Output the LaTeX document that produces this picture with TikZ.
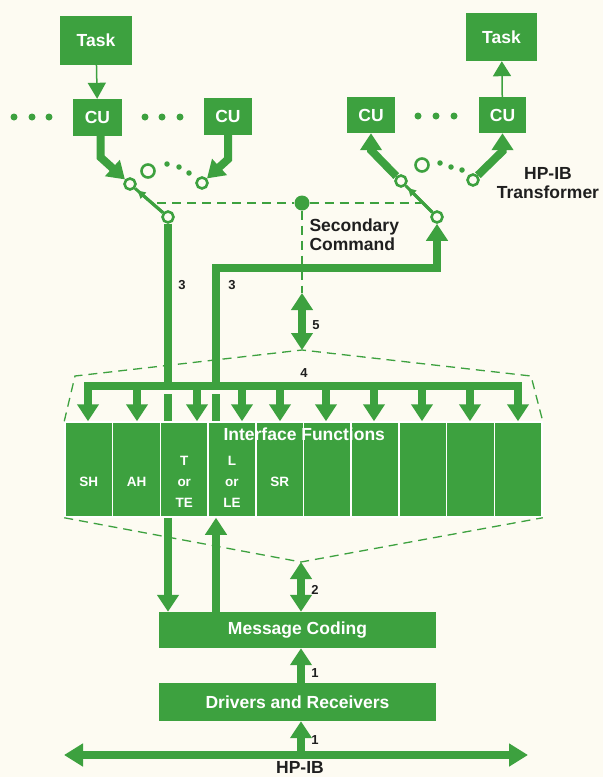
\documentclass[tikz,border=0pt]{standalone}
\usepackage{fontspec}
\setmainfont{Liberation Sans}
\usetikzlibrary{arrows.meta,calc}
\definecolor{hpgreen}{RGB}{61,161,63}
\definecolor{paper}{RGB}{253,251,242}
\tikzset{
  box/.style={fill=hpgreen,text=white,font=\bfseries\fontsize{17.5}{21}\selectfont,inner sep=0pt},
  col/.style={fill=hpgreen,draw=white,line width=1.5pt,minimum width=47.7pt,minimum height=95pt,inner sep=0pt},
  coltxt/.style={text=white,font=\bfseries\fontsize{13.5}{21}\selectfont,align=center},
  lbl/.style={text=black!88,font=\bfseries\fontsize{13}{15}\selectfont},
  big/.style={text=black!88,font=\bfseries\fontsize{17.5}{19.5}\selectfont},
  contact/.style={circle,draw=hpgreen,fill=paper,line width=2.6pt,minimum size=11pt,inner sep=0pt},
  dot/.style={circle,fill=hpgreen,minimum size=7pt,inner sep=0pt},
  sdot/.style={circle,fill=hpgreen,minimum size=5.5pt,inner sep=0pt},
  wire/.style={hpgreen,line width=8pt},
  arm/.style={hpgreen,line width=3pt},
  dashline/.style={hpgreen,line width=1.3pt,dash pattern=on 9pt off 6pt},
}
\begin{document}
\begin{tikzpicture}[x=1pt,y=-1pt,line join=miter,>={Triangle[width=21pt,length=17pt]}]
  \fill[paper] (0,0) rectangle (603,777);
  \useasboundingbox (0,0) rectangle (603,777);
  % tasks and control units
  \node[box,minimum width=72pt,minimum height=49pt] (taskL) at (96,40) {Task};
  \node[box,minimum width=71pt,minimum height=48pt] (taskR) at (501.5,37) {Task};
  \node[box,minimum width=49pt,minimum height=37pt] (cuL1) at (97.5,117.5) {CU};
  \node[box,minimum width=48pt,minimum height=37pt] (cuL2) at (228,116.5) {CU};
  \node[box,minimum width=48pt,minimum height=36pt] (cuR1) at (371,115) {CU};
  \node[box,minimum width=47pt,minimum height=36pt] (cuR2) at (502.5,115) {CU};
  \foreach \x [count=\i] in {14,32,49,145,162,180,418,436,454}
    \node[dot] (d\i) at (\x,{\x<400 ? 117 : 116}) {};
  \draw[hpgreen,line width=1.5pt,-{Triangle[width=18pt,length=16pt]}] (taskL) -- (cuL1);
  \draw[hpgreen,line width=1.5pt,-{Triangle[width=18pt,length=15pt]}] (cuR2) -- (taskR);
  % switches
  \node[contact] (cL1) at (130,184) {};
  \node[contact] (cL2) at (202,183) {};
  \node[contact,minimum size=13pt] (cL3) at (148,171) {};
  \node[contact] (pL) at (168,217) {};
  \node[contact] (cR1) at (401,181) {};
  \node[contact] (cR2) at (473,180) {};
  \node[contact,minimum size=13pt] (cR3) at (422,165) {};
  \node[contact] (pR) at (437,217) {};
  \foreach \x/\y [count=\i] in {167/164,179/167,189/173,440/163,451/167,462/170}
    \node[sdot] (s\i) at (\x,\y) {};
  \draw[arm] (pL) -- (cL1);
  \draw[arm,-{Triangle[width=8pt,length=8pt]},shorten >=3pt] (pL) -- (cL1);
  \draw[arm] (pR) -- (cR1);
  \draw[arm,-{Triangle[width=8pt,length=8pt]},shorten >=3pt] (pR) -- (cR1);
  \draw[wire,->] ([xshift=3pt]cuL1.south) -- ++(0,21) -- (cL1);
  \draw[wire,->] (cuL2.south) -- ++(0,24) -- (cL2);
  \draw[wire,->] (cR1) -- ($(cuR1.south)+(0,17)$) -- (cuR1.south);
  \draw[wire,->] (cR2) -- ($(cuR2.south)+(0,18)$) -- (cuR2.south);
  % secondary command
  \node[dot,minimum size=15pt] (sc) at (302,203) {};
  \coordinate (dl) at (157,203);
  \coordinate (dr) at (421,203);
  \coordinate (s5) at (302,293);
  \draw[dashline] (dl) -- (sc) -- (dr);
  \draw[dashline] (sc) -- (s5);
  \node[big,anchor=north west,align=left] (sctxt) at (306,215) {Secondary\\Command};
  \node[big,align=center] (tr) at (548,183) {HP-IB\\Transformer};
  % interface functions
  \foreach \i in {1,...,10}
    \node[col] (f\i) at ({65+47.7*(\i-0.5)},469.5) {};
  \node[coltxt] (tSH) at ($(f1)+(0,12)$) {SH};
  \node[coltxt] (tAH) at ($(f2)+(0,12)$) {AH};
  \node[coltxt] (tT) at ($(f3)+(0,12)$) {T\\or\\TE};
  \node[coltxt] (tL) at ($(f4)+(0,12)$) {L\\or\\LE};
  \node[coltxt] (tSR) at ($(f5)+(0,12)$) {SR};
  \node[box,fill=none] (ift) at ($(f5.north east)+(0,13)$) {Interface Functions};
  \coordinate (a5) at (302,350);
  \draw[dashline] (f1.north west) -- (75,376) -- (a5) -- (531,376) -- (f10.north east);
  \draw[wire,<->] (s5) -- (a5);
  % lines to the switches, broken just under bus 4
  \coordinate (rr) at (216,268);
  \coordinate (bus) at (84,386);
  \draw[wire] (pL) -- (pL |- bus);
  \draw[wire] ($(pL |- bus)+(0,8)$) -- (pL |- f3.north);
  \draw[wire,->] (rr |- bus) -- (rr) -| (pR);
  \draw[wire] ($(rr |- bus)+(0,8)$) -- (rr |- f4.north);
  \draw[wire] (bus) -- (522,386);
  \foreach \x [count=\i] in {88,137,197,242,280,326,374,422,470,518}
    \draw[wire,->] (\x,382) -- (\x,382 |- f\i.north);
  % message coding, drivers, bus
  \node[box,minimum width=277pt,minimum height=36pt] (msg) at (297.5,630) {Message Coding};
  \node[box,minimum width=277pt,minimum height=38pt] (drv) at (297.5,702) {Drivers and Receivers};
  \coordinate (a2) at (301,562);
  \draw[dashline] (f1.south west) -- (a2) -- (f10.south east);
  \draw[wire,<->] (a2) -- (a2 |- msg.north);
  \draw[wire,->] (pL |- f3.south) -- (pL |- msg.north);
  \draw[wire,->] (rr |- msg.north) -- (rr |- f4.south);
  \draw[wire,->] (a2 |- drv.north) -- (a2 |- msg.south);
  \coordinate (busL) at (64,755);
  \coordinate (busR) at (528,755);
  \draw[wire,{Triangle[width=22pt,length=19pt]}-{Triangle[width=22pt,length=19pt]}] (busL) -- (busR);
  \draw[wire,->] (a2 |- busL) -- (a2 |- drv.south);
  % numbers
  \node[lbl] (n3a) at (182,285) {3};
  \node[lbl] (n3b) at (232,285) {3};
  \node[lbl] (n5) at (316,325) {5};
  \node[lbl] (n4) at (304,373) {4};
  \node[lbl] (n2) at (315,590) {2};
  \node[lbl] (n1a) at (315,673) {1};
  \node[lbl] (n1b) at (315,740) {1};
  \node[big] (hpib) at (300,767) {HP-IB};
\end{tikzpicture}
\end{document}
